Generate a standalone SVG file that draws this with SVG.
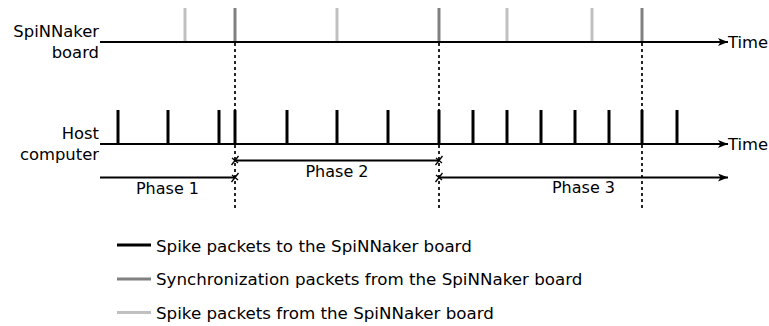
<svg xmlns="http://www.w3.org/2000/svg" width="769" height="326" viewBox="0 0 769 326">
  <style>
    text { font-family: "DejaVu Sans", sans-serif; font-size: 16.4px; fill: #000; }
    .ph { font-size: 16px; }
    .lg { font-size: 16.7px; }
    .axis { stroke: #000; stroke-width: 2; fill: none; }
    .spk { stroke: #000; stroke-width: 3; }
    .sync { stroke: #808080; stroke-width: 3; }
    .rx { stroke: #c0c0c0; stroke-width: 3; }
    .phase { stroke: #000; stroke-width: 2; fill: none; }
    .cut { stroke: #000; stroke-width: 1.3; fill: none; }
    .div { stroke: #000; stroke-width: 1.7; stroke-dasharray: 3 3; }
  </style>
  <defs>
    <marker id="arrow" viewBox="0 0 10 8" refX="10" refY="4" markerWidth="10" markerHeight="8" markerUnits="userSpaceOnUse" orient="auto">
      <path d="M0,0 L10,4 L0,8 L2.5,4 Z" fill="#000"/>
    </marker>
  </defs>

  <!-- phase boundaries -->
  <g id="dividers">
    <line class="div" x1="235" y1="43" x2="235" y2="210"/>
    <line class="div" x1="439" y1="43" x2="439" y2="210"/>
    <line class="div" x1="642" y1="43" x2="642" y2="210"/>
  </g>

  <!-- SpiNNaker board timeline -->
  <g id="board">
    <text x="99" y="37" text-anchor="end">SpiNNaker</text>
    <text x="99" y="58" text-anchor="end">board</text>
    <line class="rx" x1="185" y1="8" x2="185" y2="42"/>
    <line class="sync" x1="235" y1="8" x2="235" y2="42"/>
    <line class="rx" x1="337" y1="8" x2="337" y2="42"/>
    <line class="sync" x1="439" y1="8" x2="439" y2="42"/>
    <line class="rx" x1="507" y1="8" x2="507" y2="42"/>
    <line class="rx" x1="592" y1="8" x2="592" y2="42"/>
    <line class="sync" x1="642" y1="8" x2="642" y2="42"/>
    <line class="axis" x1="100" y1="42" x2="728" y2="42" marker-end="url(#arrow)"/>
    <text x="728" y="47.5">Time</text>
  </g>

  <!-- host computer timeline -->
  <g id="host">
    <text x="99" y="139" text-anchor="end">Host</text>
    <text x="99" y="160" text-anchor="end">computer</text>
    <g class="spk">
      <line x1="118" y1="110" x2="118" y2="144"/>
      <line x1="168" y1="110" x2="168" y2="144"/>
      <line x1="219" y1="110" x2="219" y2="144"/>
      <line x1="235" y1="110" x2="235" y2="144"/>
      <line x1="287" y1="110" x2="287" y2="144"/>
      <line x1="337" y1="110" x2="337" y2="144"/>
      <line x1="388" y1="110" x2="388" y2="144"/>
      <line x1="439" y1="110" x2="439" y2="144"/>
      <line x1="473" y1="110" x2="473" y2="144"/>
      <line x1="507" y1="110" x2="507" y2="144"/>
      <line x1="541" y1="110" x2="541" y2="144"/>
      <line x1="575" y1="110" x2="575" y2="144"/>
      <line x1="609" y1="110" x2="609" y2="144"/>
      <line x1="642" y1="110" x2="642" y2="144"/>
      <line x1="677" y1="110" x2="677" y2="144"/>
    </g>
    <line class="axis" x1="100" y1="144" x2="728" y2="144" marker-end="url(#arrow)"/>
    <text x="728" y="149.5">Time</text>
  </g>

  <!-- phases -->
  <g id="phases">
    <line class="phase" x1="100" y1="177.5" x2="235" y2="177.5"/>
    <line class="phase" x1="235" y1="160.5" x2="439" y2="160.5"/>
    <line class="phase" x1="439" y1="177.5" x2="728" y2="177.5" marker-end="url(#arrow)"/>
    <path class="cut" d="M231.5,165 L238.5,156 M232,158 L238,163 M231.5,182 L238.5,173 M232,175 L238,180 M435.5,165 L442.5,156 M436,158 L442,163 M435.5,182 L442.5,173 M436,175 L442,180"/>
    <text class="ph" x="167.5" y="193.5" text-anchor="middle">Phase 1</text>
    <text class="ph" x="337" y="176.5" text-anchor="middle">Phase 2</text>
    <text class="ph" x="583.5" y="192.5" text-anchor="middle">Phase 3</text>
  </g>

  <!-- legend -->
  <g id="legend">
    <line class="spk" x1="117" y1="245" x2="151" y2="245"/>
    <text class="lg" x="156" y="251.5">Spike packets to the SpiNNaker board</text>
    <line class="sync" x1="117" y1="279" x2="151" y2="279"/>
    <text class="lg" x="156" y="285">Synchronization packets from the SpiNNaker board</text>
    <line class="rx" x1="117" y1="312.5" x2="151" y2="312.5"/>
    <text class="lg" x="156" y="318.5">Spike packets from the SpiNNaker board</text>
  </g>
</svg>
